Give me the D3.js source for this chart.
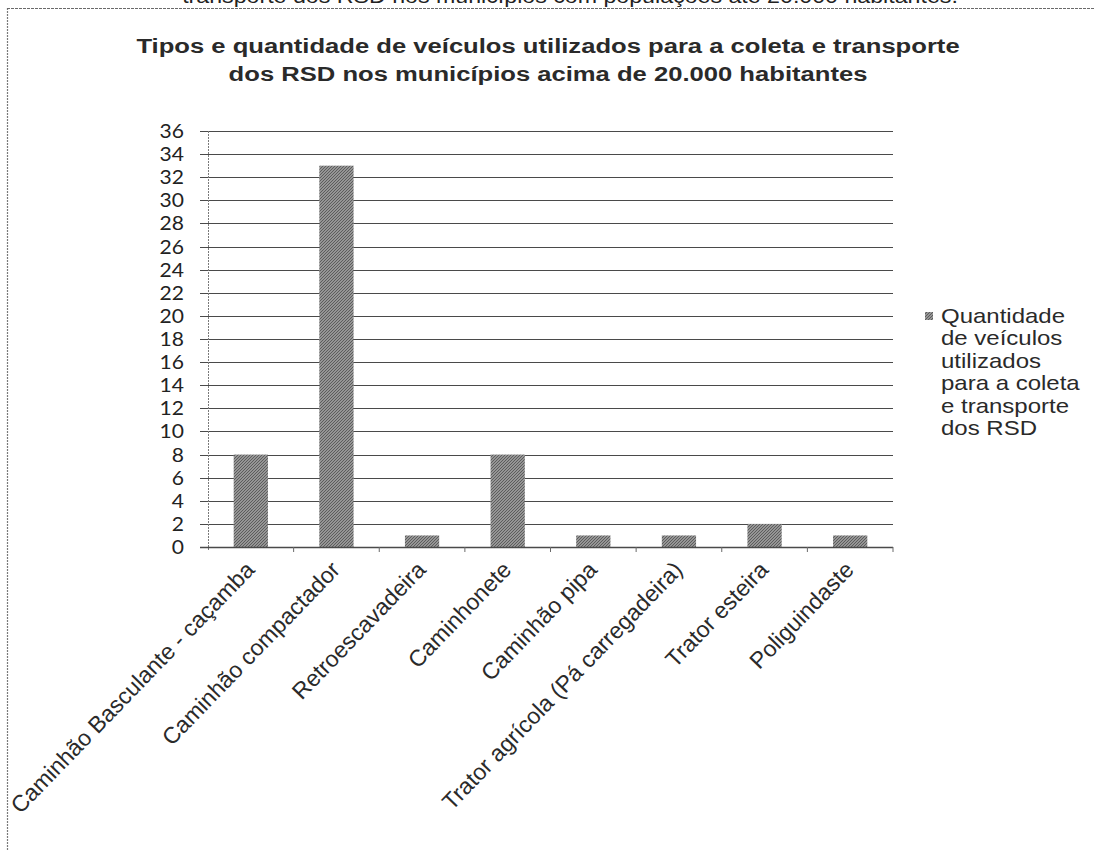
<!DOCTYPE html>
<html>
<head>
<meta charset="utf-8">
<script src="https://cdn.jsdelivr.net/npm/d3@7"></script>
<style>
  html, body { margin: 0; padding: 0; background: #fff; }
  svg { display: block; }
</style>
</head>
<body>
<svg id="chart" width="1094" height="850"></svg>
<script>
// Vehicle types used for collection and transport of household solid waste (RSD)
const categories = [
  "Caminhão Basculante - caçamba",
  "Caminhão compactador",
  "Retroescavadeira",
  "Caminhonete",
  "Caminhão pipa",
  "Trator agrícola (Pá carregadeira)",
  "Trator esteira",
  "Poliguindaste"
];
const quantities = [8, 33, 1, 8, 1, 1, 2, 1];
const yTicks = [0, 2, 4, 6, 8, 10, 12, 14, 16, 18, 20, 22, 24, 26, 28, 30, 32, 34, 36];
const titleLines = [
  "Tipos e quantidade de veículos utilizados para a coleta e transporte",
  "dos RSD nos municípios acima de 20.000 habitantes"
];
const legendLines = [
  "Quantidade",
  "de veículos",
  "utilizados",
  "para a coleta",
  "e transporte",
  "dos RSD"
];
const previousCaption = "transporte dos RSD nos municípios com populações até 20.000 habitantes.";

const svg = d3.select("#chart");

const plot = { left: 208, right: 893, top: 131, bottom: 547 };

const x = d3.scaleBand().domain(categories).range([plot.left, plot.right]).paddingInner(0.6).paddingOuter(0.3);
const xEdges = d3.scaleBand().domain(categories).range([plot.left, plot.right]);
const y = d3.scaleLinear().domain([0, 36]).range([plot.bottom, plot.top]);

// Fill pattern for bars: fine diagonal hatching on grey
const defs = svg.append("defs");
const pat = defs.append("pattern")
  .attr("id", "hatch").attr("width", 3).attr("height", 3)
  .attr("patternUnits", "userSpaceOnUse");
pat.append("rect").attr("width", 3).attr("height", 3).attr("fill", "#959595");
pat.append("path").attr("d", "M0,3 L3,0 M-1,1 L1,-1 M2,4 L4,2")
  .attr("stroke", "#5c5c5c").attr("stroke-width", 1);

// Frame of the page region
svg.append("line").attr("x1", 7.5).attr("x2", 7.5).attr("y1", 8).attr("y2", 850)
  .attr("stroke", "#7a7a7a").attr("stroke-width", 1.2).attr("stroke-dasharray", "2,1");
svg.append("line").attr("x1", 7).attr("x2", 1094).attr("y1", 8.5).attr("y2", 8.5)
  .attr("stroke", "#6a6a6a").attr("stroke-width", 1.2).attr("stroke-dasharray", "3,1");

// Caption of the previous figure, cut by the top edge
svg.append("text")
  .attr("transform", `translate(570,3) scale(1.16,1)`)
  .attr("text-anchor", "middle")
  .attr("font-family", "Liberation Sans, Arial, sans-serif")
  .attr("font-size", 20)
  .attr("fill", "#222")
  .text(previousCaption);

// Title
svg.append("g").selectAll("text").data(titleLines).join("text")
  .attr("transform", (d, i) => `translate(548,${53 + i * 28}) scale(1.22,1)`)
  .attr("text-anchor", "middle")
  .attr("font-family", "Liberation Sans, Arial, sans-serif")
  .attr("font-weight", "bold")
  .attr("font-size", 21)
  .attr("fill", "#2a2a2a")
  .text(d => d);

// Horizontal gridlines with left tick stubs
svg.append("g").selectAll("line").data(yTicks).join("line")
  .attr("x1", plot.left - 8).attr("x2", plot.right)
  .attr("y1", d => Math.round(y(d)) + 0.5).attr("y2", d => Math.round(y(d)) + 0.5)
  .attr("stroke", "#4a4a4a").attr("stroke-width", 1.1);

// Vertical axis line
svg.append("line")
  .attr("x1", plot.left + 0.5).attr("x2", plot.left + 0.5)
  .attr("y1", plot.top).attr("y2", plot.bottom + 4)
  .attr("stroke", "#7a7a7a").attr("stroke-width", 1).attr("stroke-dasharray", "2,1");

// Y tick labels
svg.append("g").selectAll("text").data(yTicks).join("text")
  .attr("transform", d => `translate(184,${y(d)}) scale(1.08,1)`)
  .attr("text-anchor", "end")
  .attr("dy", "0.36em")
  .attr("font-family", "Lato, sans-serif")
  .attr("font-size", 19.5)
  .attr("fill", "#222")
  .text(d => d);

// Bars
svg.append("g").selectAll("rect").data(quantities).join("rect")
  .attr("x", (d, i) => x(categories[i]))
  .attr("width", x.bandwidth())
  .attr("y", d => y(d))
  .attr("height", d => y(0) - y(d))
  .attr("fill", "url(#hatch)");

// X axis baseline and category tick marks
svg.append("line")
  .attr("x1", plot.left - 8).attr("x2", plot.right)
  .attr("y1", Math.round(y(0)) + 0.5).attr("y2", Math.round(y(0)) + 0.5)
  .attr("stroke", "#4a4a4a").attr("stroke-width", 1.3);
const edgeVals = categories.map(c => xEdges(c) + xEdges.bandwidth());
svg.append("g").selectAll("line").data(edgeVals).join("line")
  .attr("x1", d => d).attr("x2", d => d)
  .attr("y1", y(0)).attr("y2", y(0) + 5)
  .attr("stroke", "#6a6a6a").attr("stroke-width", 1);

// Category labels, rotated
svg.append("g").selectAll("text").data(categories).join("text")
  .attr("transform", d => `translate(${xEdges(d) + xEdges.bandwidth() / 2 + 5},${plot.bottom + 24}) rotate(-46)`)
  .attr("text-anchor", "end")
  .attr("font-family", "Liberation Sans, Arial, sans-serif")
  .attr("font-size", 23)
  .attr("fill", "#2a2a2a")
  .text(d => d);

// Legend
svg.append("rect").attr("x", 925).attr("y", 312).attr("width", 8).attr("height", 8)
  .attr("fill", "url(#hatch)");
svg.append("g").selectAll("text").data(legendLines).join("text")
  .attr("transform", (d, i) => `translate(941,${323 + i * 22.4}) scale(1.2,1)`)
  .attr("font-family", "Liberation Sans, Arial, sans-serif")
  .attr("font-size", 20)
  .attr("fill", "#2a2a2a")
  .text(d => d);
</script>
</body>
</html>
